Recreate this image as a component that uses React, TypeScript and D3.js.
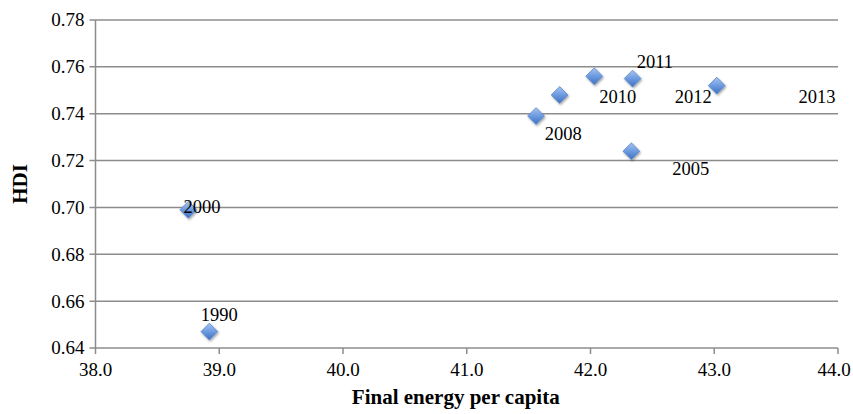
import React from 'react';
import * as d3 from 'd3';

// points
const years = ['1990', '2000', '2005', '2008', '2009', '2010', '2011', '2012'];
const energy = [38.92, 38.75, 42.33, 41.56, 41.75, 42.03, 42.34, 43.02];
const hdi = [0.647, 0.699, 0.724, 0.739, 0.748, 0.756, 0.755, 0.752];

// data labels as Excel placed them (text centre, baseline) in data units
const labelText = ['1990', '2000', '2005', '2008', '2010', '2011', '2012', '2013'];
const labelX = [39.0, 38.86, 42.81, 41.78, 42.22, 42.52, 42.83, 43.83];
const labelY = [0.6515, 0.6976, 0.7138, 0.7287, 0.7445, 0.7594, 0.7445, 0.7445];

const xTicks = [38, 39, 40, 41, 42, 43, 44];
const yTicks = [0.64, 0.66, 0.68, 0.70, 0.72, 0.74, 0.76, 0.78];

const serif = { fontFamily: "'Liberation Serif', 'DejaVu Serif', serif" };

export default function App() {
    const width = 853, height = 414;
    const margin = { top: 20, right: 15, bottom: 66, left: 95.5 };
    const x = d3.scaleLinear().domain([38, 44]).range([margin.left, width - margin.right]);
    const y = d3.scaleLinear().domain([0.64, 0.78]).range([height - margin.bottom, margin.top]);
    const grid = '#8c8c8c';
    const diamond = d3.symbol().type(d3.symbolDiamond2).size(180)();

    return (
        <svg width={width} height={height} style={{ position: 'absolute', left: 0, top: 0, background: '#fff' }}>
            <defs>
                <linearGradient id="mk" x1="0" y1="0" x2="0" y2="1">
                    <stop offset="0" stopColor="#a6c3ee" />
                    <stop offset="0.5" stopColor="#6d9be0" />
                    <stop offset="1" stopColor="#3d70c2" />
                </linearGradient>
                <filter id="sh" x="-50%" y="-50%" width="200%" height="200%">
                    <feDropShadow dx="1" dy="1.5" stdDeviation="1" floodColor="#000" floodOpacity="0.35" />
                </filter>
            </defs>
            {yTicks.map(t => (
                <g key={t}>
                    <line x1={x(38) - 6} x2={x(44)} y1={y(t)} y2={y(t)} stroke={grid} strokeWidth={1.5} />
                    <text x={x(38) - 11} y={y(t)} dy="0.34em" textAnchor="end" fontSize={19} fill="#000" style={serif}>
                        {t.toFixed(2)}
                    </text>
                </g>
            ))}
            <line x1={x(38)} x2={x(38)} y1={y(0.78)} y2={y(0.64)} stroke={grid} strokeWidth={1.5} />
            {xTicks.map(t => (
                <g key={t}>
                    <line x1={x(t)} x2={x(t)} y1={y(0.64)} y2={y(0.64) + 6} stroke={grid} strokeWidth={1.5} />
                    <text x={Math.min(x(t), width - 19)} y={y(0.64) + 28} textAnchor="middle" fontSize={19} fill="#000" style={serif}>
                        {t.toFixed(1)}
                    </text>
                </g>
            ))}
            {years.map((yr, i) => (
                <path key={yr} d={diamond!} transform={`translate(${x(energy[i])},${y(hdi[i])})`}
                    fill="url(#mk)" stroke="#5b86c9" strokeWidth={0.8} filter="url(#sh)" />
            ))}
            {labelText.map((t, i) => (
                <text key={t} x={x(labelX[i])} y={y(labelY[i])} textAnchor="middle" fontSize={18.5} fill="#000" style={serif}>
                    {t}
                </text>
            ))}
            <text x={(x(38) + x(44)) / 2 - 11} y={404} textAnchor="middle" fontSize={21} fontWeight="bold" style={serif}>
                Final energy per capita
            </text>
            <text transform={`translate(27,${(y(0.64) + y(0.78)) / 2}) rotate(-90)`} textAnchor="middle"
                fontSize={21} fontWeight="bold" style={serif}>HDI</text>
        </svg>
    );
}
